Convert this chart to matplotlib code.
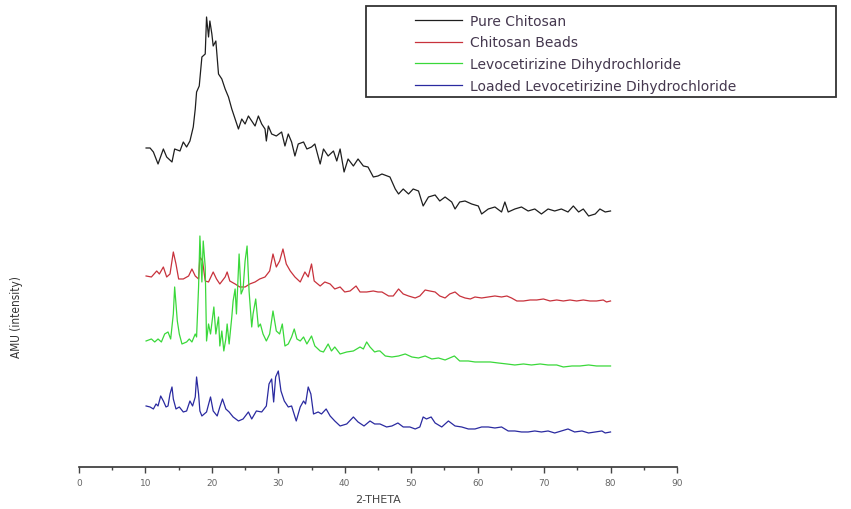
import matplotlib
matplotlib.use('Agg')
import matplotlib.pyplot as plt
from matplotlib.patches import Rectangle

# values (2-theta in degrees, intensity in arbitrary units)
pure_x = [10.1, 10.7, 11.2, 11.9, 12.7, 13.2, 14.0, 14.4, 15.2, 15.7, 16.2, 16.7, 17.2, 17.5, 17.7,
          18.1, 18.5, 19.0, 19.2, 19.5, 19.7, 20.0, 20.2, 20.6, 21.0, 21.5, 22.0, 22.5, 23.0, 23.5,
          24.0, 24.5, 25.0, 25.5, 26.0, 26.5, 27.0, 27.5, 28.0, 28.2, 28.5, 29.0, 29.7, 30.5, 31.0,
          31.5, 32.0, 32.5, 33.0, 33.8, 34.3, 35.0, 35.5, 36.3, 36.8, 37.5, 38.3, 38.8, 39.3, 39.9,
          40.5, 41.3, 42.0, 42.8, 43.5, 44.3, 45.0, 45.6, 46.8, 47.6, 48.1, 48.8, 49.6, 50.3, 51.1,
          51.8, 52.6, 53.6, 54.3, 55.1, 56.1, 56.6, 57.3, 58.1, 59.1, 60.1, 60.6, 61.6, 62.6, 63.6,
          64.1, 64.6, 65.6, 66.6, 67.6, 68.6, 69.6, 70.6, 71.6, 72.6, 73.6, 74.4, 75.2, 75.9, 76.7,
          77.7, 78.4, 79.2, 80.0]
pure_y = [319, 319, 315, 303, 318, 310, 305, 318, 316, 325, 320, 326, 340, 358, 375,
          381, 410, 413, 450, 430, 446, 433, 421, 426, 393, 388, 378, 370, 358, 348,
          338, 348, 343, 351, 346, 341, 351, 343, 338, 326, 341, 333, 331, 335, 321,
          333, 325, 311, 323, 325, 318, 320, 323, 303, 318, 311, 316, 306, 318, 295,
          308, 301, 308, 301, 300, 290, 291, 293, 290, 278, 273, 278, 273, 278, 276,
          261, 270, 272, 266, 270, 265, 258, 265, 266, 263, 261, 253, 258, 260, 255,
          265, 255, 258, 260, 256, 258, 253, 258, 256, 258, 255, 261, 255, 258, 251,
          253, 258, 255, 256]

beads_x = [10.1, 10.9, 11.7, 12.1, 12.7, 13.2, 13.7, 14.2, 14.6, 15.0, 15.7, 16.5, 17.0, 17.5, 18.0,
           18.2, 18.6, 19.0, 19.5, 20.2, 20.7, 21.2, 22.0, 22.3, 22.7, 23.5, 24.2, 25.0, 25.7, 26.5,
           27.2, 28.0, 28.7, 29.2, 29.7, 30.2, 30.7, 31.2, 31.8, 32.5, 33.3, 34.0, 34.5, 35.0, 35.4,
           36.3, 37.0, 37.8, 38.5, 39.3, 40.0, 40.8, 41.7, 42.3, 43.3, 44.3, 45.0, 45.6, 46.6, 47.3,
           48.1, 48.8, 49.6, 50.6, 51.3, 52.1, 52.8, 53.6, 54.3, 55.1, 55.8, 56.6, 57.3, 58.1, 58.9,
           59.6, 60.6, 61.6, 62.6, 63.6, 64.4, 65.1, 65.9, 66.9, 67.9, 68.9, 69.9, 70.9, 71.9, 72.9,
           73.9, 74.9, 75.9, 76.9, 77.9, 78.9, 79.4, 80.0]
beads_y = [191, 190, 196, 193, 200, 190, 193, 215, 203, 188, 188, 191, 198, 191, 188,
           210, 206, 186, 185, 195, 188, 183, 190, 195, 186, 183, 180, 180, 183, 185,
           188, 190, 196, 213, 200, 206, 218, 203, 196, 190, 185, 195, 190, 203, 186,
           181, 185, 183, 178, 180, 175, 176, 181, 175, 175, 176, 175, 175, 171, 171,
           178, 173, 171, 169, 171, 177, 176, 175, 171, 169, 173, 175, 171, 169, 168,
           170, 169, 170, 171, 170, 171, 169, 166, 166, 167, 167, 168, 166, 167, 166,
           167, 166, 167, 166, 166, 167, 165, 166]

levo_x = [10.1, 10.9, 11.4, 11.9, 12.4, 12.9, 13.4, 13.8, 14.2, 14.4, 14.8, 15.1, 15.5, 16.2, 16.6,
          17.0, 17.5, 17.7, 18.0, 18.2, 18.5, 18.7, 19.0, 19.2, 19.5, 19.8, 20.3, 20.6, 21.0, 21.2,
          21.5, 21.8, 22.1, 22.3, 22.6, 23.0, 23.2, 23.5, 23.7, 24.1, 24.4, 24.7, 25.0, 25.3, 25.6,
          26.0, 26.2, 26.6, 27.0, 27.3, 27.7, 28.2, 28.7, 29.2, 29.7, 30.2, 30.6, 31.0, 31.5, 32.0,
          32.4, 32.8, 33.3, 33.8, 34.3, 35.0, 35.5, 36.3, 36.8, 37.5, 38.0, 38.5, 39.3, 40.3, 41.3,
          42.3, 42.8, 43.3, 43.8, 44.5, 45.0, 45.3, 46.1, 47.1, 48.1, 49.1, 50.1, 51.1, 52.1, 53.1,
          54.1, 55.1, 56.5, 57.3, 58.6, 59.6, 60.6, 61.9, 63.1, 64.4, 65.6, 66.9, 68.1, 69.4, 70.6,
          71.9, 72.9, 74.2, 75.4, 76.7, 77.9, 79.4, 80.0]
levo_y = [126, 128, 125, 128, 125, 133, 135, 128, 153, 180, 146, 133, 123, 125, 128,
          125, 133, 130, 180, 231, 185, 226, 200, 126, 143, 133, 160, 133, 150, 121,
          136, 116, 128, 143, 123, 150, 166, 178, 153, 213, 173, 178, 206, 221, 176,
          140, 153, 168, 140, 143, 133, 126, 133, 156, 136, 133, 143, 121, 123, 130,
          138, 128, 126, 130, 123, 131, 121, 116, 115, 123, 116, 120, 113, 115, 116,
          120, 118, 125, 120, 115, 116, 116, 111, 110, 111, 113, 110, 109, 111, 108,
          109, 107, 111, 106, 106, 105, 105, 105, 104, 103, 102, 103, 102, 103, 102,
          102, 100, 101, 101, 102, 101, 101, 101]

loaded_x = [10.1, 10.7, 11.2, 11.6, 11.9, 12.3, 12.7, 13.1, 13.4, 13.7, 14.0, 14.2, 14.6, 15.1, 15.7,
            16.2, 16.7, 17.1, 17.5, 17.7, 18.0, 18.2, 18.5, 19.2, 19.8, 20.2, 20.8, 21.2, 21.6, 22.1,
            22.6, 23.2, 24.0, 24.7, 25.5, 26.0, 26.7, 27.5, 28.2, 28.6, 29.0, 29.3, 29.6, 30.0, 30.4,
            30.9, 31.5, 32.0, 32.7, 33.3, 33.8, 34.1, 34.5, 34.9, 35.3, 36.0, 36.5, 37.2, 37.8, 38.5,
            39.3, 40.3, 41.3, 42.0, 42.9, 43.8, 44.5, 45.3, 46.3, 47.1, 48.0, 48.8, 49.8, 50.6, 51.3,
            51.8, 52.3, 53.0, 53.6, 54.6, 55.6, 56.6, 57.6, 58.6, 59.6, 60.6, 61.6, 62.6, 63.6, 64.6,
            65.6, 66.6, 67.6, 68.6, 69.6, 70.6, 71.6, 72.6, 73.6, 74.6, 75.7, 76.7, 77.7, 78.7, 79.2,
            80.0]
loaded_y = [61, 60, 58, 63, 61, 71, 66, 60, 61, 73, 80, 68, 58, 60, 55,
            56, 66, 61, 70, 90, 73, 56, 51, 55, 70, 56, 51, 60, 68, 58,
            55, 50, 46, 48, 55, 48, 56, 55, 61, 83, 88, 65, 90, 96, 76,
            66, 60, 61, 46, 60, 66, 63, 80, 73, 53, 55, 53, 58, 51, 46,
            41, 43, 50, 45, 41, 46, 43, 43, 40, 41, 44, 40, 40, 38, 40,
            50, 48, 50, 44, 40, 46, 41, 40, 38, 38, 40, 40, 39, 40, 36,
            36, 35, 35, 36, 35, 36, 34, 36, 38, 35, 36, 34, 35, 36, 34,
            35]

names = ['Pure Chitosan', 'Chitosan Beads', 'Levocetirizine Dihydrochloride',
         'Loaded Levocetirizine Dihydrochloride']
colors = ['#1e1e1e', '#c8323c', '#3ad83a', '#2a2aa0']

fig = plt.figure(figsize=(8.51, 5.10), dpi=100)
ax = fig.add_axes([0.0928, 0.0824, 0.7027, 0.9176])

series = [(pure_x, pure_y), (beads_x, beads_y), (levo_x, levo_y), (loaded_x, loaded_y)]
for (xs, ys), name, c in zip(series, names, colors):
    ax.plot(xs, ys, color=c, lw=0.9, label=name)

ax.set_xlim(0, 90)
ax.set_ylim(0, 468)
ax.set_xticks(range(0, 91, 10))
ax.set_xticks(range(5, 90, 10), minor=True)
ax.tick_params(axis='x', which='major', length=4, width=1, colors='#444', labelsize=6.5,
               labelcolor='#666', pad=4)
ax.tick_params(axis='x', which='minor', length=2.5, width=1, colors='#444')
ax.set_yticks([])
for s in ['left', 'top', 'right']:
    ax.spines[s].set_visible(False)
ax.spines['bottom'].set_color('#333')
ax.spines['bottom'].set_linewidth(1.2)

ax.set_xlabel('2-THETA', fontsize=8, color='#444', labelpad=5)
ax.set_ylabel('AMU (intensity)', fontsize=8.5, color='#333', fontstretch='condensed')
ax.yaxis.set_label_coords(-0.094, 0.323)

leg = fig.legend(loc='upper left', bbox_to_anchor=(405 / 851, 1 - 5 / 510), frameon=False,
                 fontsize=10, handlelength=3.4, handletextpad=0.6, labelspacing=0.55,
                 borderpad=0.2)
for t in leg.get_texts():
    t.set_color('#45384f')

fig.patches.append(Rectangle((366 / 851, 1 - 98 / 510), 470 / 851, 91 / 510,
                             transform=fig.transFigure, fill=False, ec='#333', lw=1.3))

fig.savefig('out.png', dpi=100)
